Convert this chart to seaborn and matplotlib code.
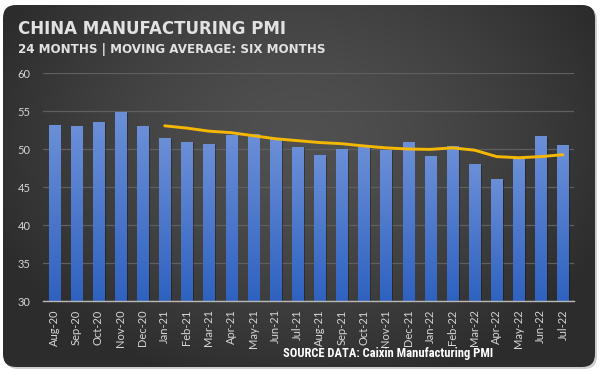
import numpy as np
import pandas as pd
import matplotlib
matplotlib.use("Agg")
import matplotlib.pyplot as plt
import seaborn as sns
from matplotlib import font_manager
from matplotlib.patches import FancyBboxPatch

# dados
meses = ["Aug-20", "Sep-20", "Oct-20", "Nov-20", "Dec-20", "Jan-21", "Feb-21", "Mar-21",
         "Apr-21", "May-21", "Jun-21", "Jul-21", "Aug-21", "Sep-21", "Oct-21", "Nov-21",
         "Dec-21", "Jan-22", "Feb-22", "Mar-22", "Apr-22", "May-22", "Jun-22", "Jul-22"]
pmi = [53.1, 53.0, 53.5, 54.8, 53.0, 51.4, 50.9, 50.6, 51.8, 51.9, 51.2, 50.2,
       49.1, 49.9, 50.4, 49.8, 50.9, 49.0, 50.3, 48.0, 46.0, 48.7, 51.6, 50.4]
# media movel de 6 meses (comeca em Jan-21)
media_movel = [None] * 5 + [53.05, 52.75, 52.35, 52.15, 51.75, 51.35, 51.1, 50.85, 50.7,
                            50.4, 50.15, 50.0, 49.95, 50.15, 49.85, 49.0, 48.85, 49.0, 49.25]

df = pd.DataFrame({"Mes": meses, "PMI": pmi, "MA": media_movel})
df["MA"] = df["MA"].astype(float)

sns.set_theme(style="dark")
plt.rcParams["font.family"] = ["DejaVu Sans"]


def fonte_estreita():
    # procura uma fonte condensada instalada
    for nome in ["Liberation Sans Narrow", "DejaVu Sans Condensed", "Roboto Condensed",
                 "Open Sans Condensed"]:
        try:
            font_manager.findfont(font_manager.FontProperties(family=nome),
                                  fallback_to_default=False)
            return nome
        except Exception:
            pass
    return "Liberation Sans"


W, H = 601, 371
Y_MIN, Y_MAX = 30, 60
fig = plt.figure(figsize=(W / 100, H / 100), dpi=100, facecolor="white")

# fundo do painel com gradiente radial e cantos arredondados
bg = fig.add_axes([0, 0, 1, 1])
bg.set_xlim(0, W)
bg.set_ylim(H, 0)
bg.axis("off")
yy, xx = np.mgrid[0:H, 0:W]
r = np.sqrt(((xx - 300) / 330.0) ** 2 + ((yy - 140) / 250.0) ** 2)
r = np.clip(r, 0, 1)
grad = 0.315 - 0.14 * r ** 1.5
img = np.dstack([grad, grad, grad])
sombra = FancyBboxPatch((5, 7), 592, 362, boxstyle="round,pad=0,rounding_size=13",
                        facecolor="#cfcfcf", edgecolor="none", zorder=0)
bg.add_patch(sombra)
painel = FancyBboxPatch((3, 5), 592, 362, boxstyle="round,pad=0,rounding_size=13",
                        facecolor="none", edgecolor="none")
bg.add_patch(painel)
im = bg.imshow(img, extent=(0, W, H, 0), interpolation="bilinear", zorder=1)
im.set_clip_path(painel)

# grafico principal
ax = fig.add_axes([43 / W, 1 - 301 / H, (574 - 43) / W, (301 - 73) / H])
ax.patch.set_alpha(0)

sns.barplot(data=df, x="Mes", y="PMI", color="#4a78cc", width=0.5, ax=ax, zorder=3)

# gradiente nas barras + sombra (so a parte visivel, acima de Y_MIN)
topo = np.array([0x6b, 0x8f, 0xd7]) / 255
base = np.array([0x2f, 0x62, 0xc0]) / 255
t = np.linspace(0, 1, 64)[:, None]
grad_bar = (topo * (1 - t) + base * t).reshape(64, 1, 3)
for p in list(ax.patches):
    x0, w, h = p.get_x(), p.get_width(), p.get_height()
    p.set_visible(False)
    sh = plt.Rectangle((x0 + 0.08, Y_MIN), w, h - Y_MIN - 0.12, facecolor="black",
                       alpha=0.3, edgecolor="none", zorder=2)
    ax.add_patch(sh)
    ax.imshow(grad_bar, extent=(x0, x0 + w, Y_MIN, h), aspect="auto",
              zorder=4, interpolation="bilinear")

sns.lineplot(data=df, x="Mes", y="MA", color="#f5b800", linewidth=2.1, ax=ax,
             zorder=5, sort=False)
for ln in ax.lines:
    ln.set_solid_joinstyle("round")
    ln.set_solid_capstyle("round")

ax.set_xlim(-0.5, len(meses) - 0.5)
ax.set_ylim(Y_MIN, Y_MAX)
ax.set_aspect("auto")
ax.set_yticks([30, 35, 40, 45, 50, 55, 60])
ax.yaxis.grid(True, color="#5f5f5f", linewidth=0.9, zorder=0)
ax.xaxis.grid(False)
ax.set_axisbelow(True)
for s in ["top", "right", "left"]:
    ax.spines[s].set_visible(False)
ax.spines["bottom"].set_color("#b8b8b8")
ax.spines["bottom"].set_linewidth(1.0)
ax.spines["bottom"].set_zorder(6)
ax.set_xlabel("")
ax.set_ylabel("")
ax.tick_params(axis="both", length=0, colors="#d6d6d6")
ax.tick_params(axis="y", pad=9)
ax.tick_params(axis="x", pad=6)
for lb in ax.get_yticklabels():
    lb.set_family(["Lato", "DejaVu Sans"])
    lb.set_fontsize(8)
ax.set_xticks(range(len(meses)))
ax.set_xticklabels(meses, rotation=90, fontsize=8, family=["Lato", "DejaVu Sans"],
                   color="#d6d6d6")

# textos
fig.text(18 / W, 1 - 34 / H, "CHINA MANUFACTURING PMI", color="#e2e2e2",
         fontsize=12, fontweight="heavy", va="baseline", ha="left")
fig.text(18 / W, 1 - 53 / H, "24 MONTHS | MOVING AVERAGE: SIX MONTHS", color="#e2e2e2",
         fontsize=8.6, fontweight="heavy", va="baseline", ha="left")
estreita = fonte_estreita()
tam_fonte = 9.0 if estreita != "Liberation Sans" else 7.8
fig.text(493 / W, 1 - 357 / H, "SOURCE DATA: Caixin Manufacturing PMI", color="white",
         fontsize=tam_fonte, fontweight="bold", va="baseline", ha="right",
         family=[estreita, "DejaVu Sans"], fontstretch="condensed")

fig.savefig("out.png", dpi=100, facecolor="white")
